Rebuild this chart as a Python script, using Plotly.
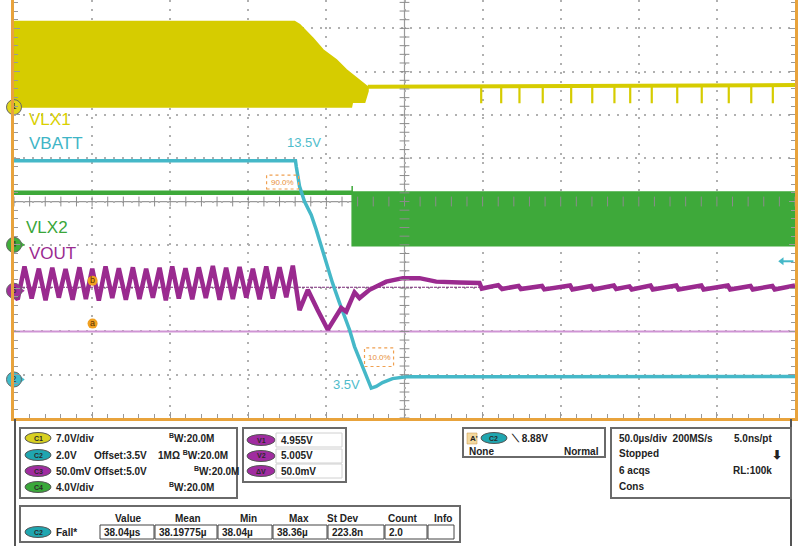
import plotly.graph_objects as go
import numpy as np

# ---------------- DATA (time in us, 50 us/div; vertical in screen divisions) ----------------
VLX1_BAND_T = [-250, -70.4, -67.2, -58.7, -52.3, -43.7, -37.3, -30.9, -25.6, -23.5,
               -23.5, -25.6, -33.5, -34.1, -250]
VLX1_BAND_V = [4.15, 4.15, 4.08, 3.77, 3.50, 3.27, 3.04, 2.85, 2.69, 2.64,
               2.55, 2.30, 2.30, 2.19, 2.19]
VLX1_LINE_T = [-23.5, 250]
VLX1_LINE_V = [2.65, 2.69]
VLX1_SPIKE_T = [49.1, 61.9, 73.6, 88.5, 106.7, 120.2, 134.4, 144.5, 158.3, 174.6,
                190.3, 207.6, 222.0, 235.8]
VLX1_SPIKE_TOP = 2.68
VLX1_SPIKE_LOW = 2.27

VBATT_T = [-250, -69.8, -69.3, -67.2, -64.0, -59.7, -56.5, -53.3, -50.1, -46.1, -41.6,
           -38.4, -35.2, -32.0, -27.7, -24.5, -21.3, -18.1, -14.1, -7.7, 1.1, 60.8, 250]
VBATT_V = [0.94, 0.94, 0.81, 0.35, 0.00, -0.31, -0.65, -1.04, -1.41, -1.88, -2.34,
           -2.65, -2.96, -3.35, -3.73, -4.04, -4.31, -4.27, -4.18, -4.09, -4.05, -4.05, -4.04]

VLX2_FLAT_T = [-250, -33.5]
VLX2_FLAT_V = [0.20, 0.20]
VLX2_BAND_T = [-33.5, -33.5, 250, 250, -33.5]
VLX2_BAND_V = [0.36, -1.02, -1.02, 0.22, 0.22]

VOUT_T = [-250, -247.6, -243.3, -238.7, -234.1, -229.8, -225.5, -221.3, -217.0, -212.5,
          -208.1, -204.0, -199.9, -195.7, -191.4, -187.1, -182.9, -178.4, -173.9, -169.7,
          -165.4, -161.1, -156.8, -152.8, -148.7, -144.5, -140.2, -135.9, -131.7, -127.2,
          -122.7, -118.4, -114.2, -109.9, -105.6, -101.3, -97.1, -92.8, -88.5, -84.3,
          -80.0, -75.7, -71.5,
          -67.2, -61.9, -58.9, -55.7, -49.1, -44.8, -40.5, -37.3, -32.0, -28.8, -22.4,
          -11.7, -1.1, 9.6, 20.3, 35.2, 48.0,
          49.5, 60.0, 62.5, 73.0, 74.5, 88.0, 89.5, 106.0, 107.5, 119.5, 121.0, 134.0,
          135.5, 144.0, 145.5, 157.5, 159.0, 174.0, 175.5, 190.0, 191.5, 207.0, 208.5,
          221.5, 223.0, 235.5, 237.0, 250.0]
VOUT_V = [-2.18, -2.26, -1.50, -2.24, -1.55, -2.28, -1.53, -2.22, -1.56, -2.27,
          -1.52, -2.25, -1.55, -2.29, -1.50, -2.23, -1.54, -2.27, -1.52, -2.25,
          -1.55, -2.22, -1.53, -2.28, -1.50, -2.24, -1.54, -2.26, -1.52, -2.23,
          -1.49, -2.27, -1.53, -2.25, -1.51, -2.22, -1.55, -2.26, -1.50, -2.24,
          -1.52, -2.21, -1.48,
          -2.51, -2.04, -2.27, -2.50, -2.96, -2.73, -2.46, -2.54, -2.10, -2.23, -2.04,
          -1.85, -1.77, -1.77, -1.85, -1.87, -1.88,
          -2.01, -1.93, -2.02, -1.95, -2.02, -1.95, -2.03, -1.94, -2.03, -1.95, -2.03, -1.94,
          -2.02, -1.96, -2.03, -1.94, -2.03, -1.94, -2.03, -1.94, -2.03, -1.94, -2.03,
          -1.95, -2.03, -1.95, -2.03, -1.94]

CURSOR_B = -1.98
CURSOR_A = -3.00
CURSOR_MARK_T = -199.7
CURSOR_MARK_V = [-1.83, -2.82]
CURSOR_MARK_TXT = ["b", "a"]

CH_MARK_V = [2.18, -1.00, -2.06, -4.11]
CH_MARK_TXT = ["1", "4", "3", "2"]
CH_MARK_COL = ["#e0d61a", "#3fae3a", "#a0309a", "#3fbccb"]
TRIG_LEVEL = -1.38

LABELS = [("VLX1", -242.0, 1.89, "#d9d000"), ("VBATT", -242.0, 1.34, "#3fb5c6"),
          ("VLX2", -243.3, -0.61, "#3aa63a"), ("VOUT", -242.0, -1.21, "#9b2a90")]
LEVEL_LABELS = [("13.5V", -76.8, 1.37, "left"), ("3.5V", -27.5, -4.22, "right")]
PCT_BOXES = [("90.0%", -88.3, -67.8, 0.29, 0.61), ("10.0%", -25.6, -7.0, -3.81, -3.38)]

YEL = "#d6cc00"
CYA = "#45b8c8"
GRN = "#3ea93a"
PUR = "#9a2a8f"
ORANGE = "#e8a33c"

fig = go.Figure()

# VLX1 switching envelope
fig.add_trace(go.Scatter(x=VLX1_BAND_T, y=VLX1_BAND_V, fill="toself", fillcolor=YEL,
                         mode="lines", line=dict(color=YEL, width=2), hoverinfo="skip"))
fig.add_trace(go.Scatter(x=VLX1_LINE_T, y=VLX1_LINE_V, mode="lines",
                         line=dict(color=YEL, width=4), hoverinfo="skip"))
sx, sy = [], []
for t in VLX1_SPIKE_T:
    sx += [t, t, None]
    sy += [VLX1_SPIKE_TOP, VLX1_SPIKE_LOW, None]
fig.add_trace(go.Scatter(x=sx, y=sy, mode="lines", line=dict(color=YEL, width=2.2),
                         hoverinfo="skip"))

# VLX2
fig.add_trace(go.Scatter(x=VLX2_BAND_T, y=VLX2_BAND_V, fill="toself", fillcolor=GRN,
                         mode="lines", line=dict(color=GRN, width=1.5), hoverinfo="skip"))
fig.add_trace(go.Scatter(x=VLX2_FLAT_T, y=VLX2_FLAT_V, mode="lines",
                         line=dict(color=GRN, width=4.5), hoverinfo="skip"))

# Cursors
fig.add_trace(go.Scatter(x=[-250, 250], y=[CURSOR_A, CURSOR_A], mode="lines",
                         line=dict(color="#cf94d4", width=2), hoverinfo="skip"))
fig.add_trace(go.Scatter(x=[-250, 250], y=[CURSOR_B, CURSOR_B], mode="lines",
                         line=dict(color="#7a2a78", width=1, dash="3px,1px"), hoverinfo="skip"))

# VBATT
fig.add_trace(go.Scatter(x=VBATT_T, y=VBATT_V, mode="lines",
                         line=dict(color=CYA, width=3.5), hoverinfo="skip"))
# VOUT
fig.add_trace(go.Scatter(x=VOUT_T, y=VOUT_V, mode="lines",
                         line=dict(color=PUR, width=4.5), hoverinfo="skip"))

# center-line minor ticks
tx = np.arange(-250, 251, 10)
fig.add_trace(go.Scatter(x=tx, y=np.zeros_like(tx, dtype=float), mode="markers",
                         marker=dict(symbol="line-ns", size=7, line=dict(color="#8c8c8c", width=1)),
                         hoverinfo="skip"))
ty = np.arange(-5, 4.7, 0.2)
fig.add_trace(go.Scatter(x=np.zeros_like(ty), y=ty, mode="markers",
                         marker=dict(symbol="line-ew", size=7, line=dict(color="#8c8c8c", width=1)),
                         hoverinfo="skip"))

# cursor markers
fig.add_trace(go.Scatter(x=[CURSOR_MARK_T] * 2, y=CURSOR_MARK_V, mode="markers+text",
                         text=CURSOR_MARK_TXT, textposition="middle center",
                         textfont=dict(size=9, color="#5a3000", family="Liberation Sans"),
                         marker=dict(size=10, color="#f0a020"), hoverinfo="skip"))

# channel markers at left
fig.add_trace(go.Scatter(x=[-245.4] * 3, y=CH_MARK_V[1:], mode="markers",
                         marker=dict(symbol="triangle-right", size=7, color=CH_MARK_COL[1:]),
                         cliponaxis=False, hoverinfo="skip"))
fig.add_trace(go.Scatter(x=[-250] * 4, y=CH_MARK_V, mode="markers+text",
                         text=CH_MARK_TXT, textposition="middle center",
                         textfont=dict(size=9, color="#333", family="Liberation Sans"),
                         marker=dict(size=15, color=CH_MARK_COL, line=dict(color="#666", width=1)),
                         cliponaxis=False, hoverinfo="skip"))
# trigger level arrow on right
fig.add_trace(go.Scatter(x=[241.5, 249], y=[TRIG_LEVEL, TRIG_LEVEL], mode="lines",
                         line=dict(color=CYA, width=2), hoverinfo="skip"))
fig.add_trace(go.Scatter(x=[241.5], y=[TRIG_LEVEL], mode="markers",
                         marker=dict(symbol="triangle-left", size=7, color=CYA), hoverinfo="skip"))

LBL_FONT = "Liberation Sans, Arial"
for txt_, t, v, col in LABELS:
    fig.add_annotation(x=t, y=v, text=txt_, showarrow=False, xanchor="left", yanchor="middle",
                       font=dict(family=LBL_FONT, size=17, color=col))
for txt_, t, v, anc in LEVEL_LABELS:
    fig.add_annotation(x=t, y=v, text=txt_, showarrow=False, xanchor=anc, yanchor="middle",
                       font=dict(family=LBL_FONT, size=13, color="#4fbccb"))
for txt_, t0, t1, v0, v1 in PCT_BOXES:
    fig.add_shape(type="rect", x0=t0, x1=t1, y0=v0, y1=v1,
                  line=dict(color="#f0a050", width=1.2, dash="dot"))
    fig.add_annotation(x=(t0 + t1) / 2, y=(v0 + v1) / 2, text=txt_, showarrow=False,
                       xanchor="center", yanchor="middle",
                       font=dict(family="Liberation Sans", size=8, color="#e8903a"))

# center cross lines
fig.add_shape(type="line", x0=0, x1=0, y0=-5, y1=4.655, line=dict(color="#9a9a9a", width=1.2), layer="below")
fig.add_shape(type="line", x0=-250, x1=250, y0=0, y1=0, line=dict(color="#9a9a9a", width=1.2), layer="below")

# ---------------- bottom status panels ----------------
def px(x):
    return (x - 14) / 781.0

def py(y):
    return (418 - y) / 418.0

PF = "Liberation Sans, Arial"
DARK = "#222"

def box(x0, y0, x1, y1, lw=2, col="#6a6a6a"):
    fig.add_shape(type="rect", xref="paper", yref="paper", x0=px(x0), x1=px(x1),
                  y0=py(y1), y1=py(y0), line=dict(color=col, width=lw), fillcolor="rgba(0,0,0,0)")

def pill(xc, yc, col, lab, w=26, h=11):
    fig.add_shape(type="circle", xref="paper", yref="paper", x0=px(xc - w / 2), x1=px(xc + w / 2),
                  y0=py(yc + h / 2), y1=py(yc - h / 2), fillcolor=col, line=dict(color="#555", width=1))
    fig.add_annotation(xref="paper", yref="paper", x=px(xc), y=py(yc), text="<b>%s</b>" % lab,
                       showarrow=False, xanchor="center", yanchor="middle",
                       font=dict(family=PF, size=7, color="#2a2a2a"))

def txt(x, y, s, anchor="left", size=10, bold=True):
    fig.add_annotation(xref="paper", yref="paper", x=px(x), y=py(y), text=("<b>%s</b>" % s) if bold else s,
                       showarrow=False, xanchor=anchor, yanchor="middle",
                       font=dict(family=PF, size=size, color=DARK))

# frame lines
fig.add_shape(type="line", xref="paper", yref="paper", x0=px(15), x1=px(15), y0=py(546), y1=py(419),
              line=dict(color="#555", width=2))
fig.add_shape(type="line", xref="paper", yref="paper", x0=px(791), x1=px(791), y0=py(546), y1=py(419),
              line=dict(color="#555", width=2))

CH_ROWS = [("C1", "#d8d020", "7.0V/div", "", "<sup>B</sup>W:20.0M", 167),
           ("C2", "#1fa6b0", "2.0V", "Offset:3.5V", "1MΩ <sup>B</sup>W:20.0M", 156),
           ("C3", "#a02ca0", "50.0mV", "Offset:5.0V", "<sup>B</sup>W:20.0M", 192),
           ("C4", "#3aa83a", "4.0V/div", "", "<sup>B</sup>W:20.0M", 167)]
ROW_Y = [438, 455, 471, 487]
box(20, 428, 237, 498)
for (lab, col, a, b, c, cx), y in zip(CH_ROWS, ROW_Y):
    pill(38, y, col, lab)
    txt(54, y, a)
    if b:
        txt(92, y, b)
    txt(cx, y, c)

CURSOR_ROWS = [("V1", "4.955V"), ("V2", "5.005V"), ("ΔV", "50.0mV")]
box(243, 428, 346, 482)
for (lab, val), y in zip(CURSOR_ROWS, [440, 456, 471]):
    pill(261, y, "#a02ca0", lab, w=28)
    fig.add_shape(type="rect", xref="paper", yref="paper", x0=px(276), x1=px(342),
                  y0=py(y + 7), y1=py(y - 7), line=dict(color="#d0d0d0", width=1))
    txt(279, y, val)

box(463, 428, 605, 457)
fig.add_shape(type="rect", xref="paper", yref="paper", x0=px(467), x1=px(477), y0=py(444), y1=py(433),
              fillcolor="#f3d9a0", line=dict(color="#c89040", width=0.5))
txt(468, 438, "A'", size=8)
pill(494, 438, "#1fa6b0", "C2")
txt(509, 438, "⟍ 8.88V")
txt(467, 451, "None")
txt(601, 451, "Normal", anchor="right")

box(611, 428, 791, 498)
TB_ROWS = [("50.0µs/div  200MS/s", "5.0ns/pt", 438), ("Stopped", "", 453),
           ("6 acqs", "RL:100k", 470), ("Cons", "", 486)]
for a, b, y in TB_ROWS:
    txt(617, y, a)
    if b:
        txt(774, y, b, anchor="right")
txt(777, 455, "⬇", anchor="center", size=12)

MEAS_HEAD = ["Value", "Mean", "Min", "Max", "St Dev", "Count", "Info"]
MEAS_VALS = ["38.04µs", "38.19775µ", "38.04µ", "38.36µ", "223.8n", "2.0", ""]
HEAD_X = [128, 188, 248, 299, 343, 403, 443]
CELL_X = [100, 155, 218, 273, 328, 385, 428, 455]
box(20, 506, 460, 542)
for h, x in zip(MEAS_HEAD, HEAD_X):
    txt(x, 518, h, anchor="center")
pill(38, 532, "#1fa6b0", "C2")
txt(54, 532, "Fall*")
for i, v in enumerate(MEAS_VALS):
    fig.add_shape(type="rect", xref="paper", yref="paper", x0=px(CELL_X[i]), x1=px(CELL_X[i + 1] - 1),
                  y0=py(539), y1=py(525), line=dict(color="#444", width=1))
    if v:
        txt(CELL_X[i] + 2, 532, v)

fig.update_layout(width=800, height=546, margin=dict(l=14, r=5, t=0, b=128, autoexpand=False),
                  paper_bgcolor="white", plot_bgcolor="white", showlegend=False)
fig.update_xaxes(range=[-250, 250], dtick=50, tick0=0, showgrid=True, gridcolor="#b0b0b0",
                 griddash="2px,7px", gridwidth=1.5, zeroline=False, showticklabels=False,
                 ticks="inside", ticklen=6, tickcolor="#999",
                 minor=dict(ticks="inside", ticklen=4, dtick=10, tickcolor="#999", showgrid=False),
                 showline=True, linecolor=ORANGE, linewidth=2.5, mirror=False, fixedrange=True)
fig.update_yaxes(range=[-5, 4.655], dtick=1, tick0=0, showgrid=True, gridcolor="#b0b0b0",
                 griddash="2px,7px", gridwidth=1.5, zeroline=False, showticklabels=False,
                 ticks="inside", ticklen=6, tickcolor="#999",
                 minor=dict(ticks="inside", ticklen=4, dtick=0.2, tickcolor="#999", showgrid=False),
                 showline=True, linecolor=ORANGE, linewidth=2.5, mirror="allticks", fixedrange=True)

fig.write_html("out.html", config={"displayModeBar": False},
               post_script="document.body.style.margin='0';document.body.style.padding='0';")
